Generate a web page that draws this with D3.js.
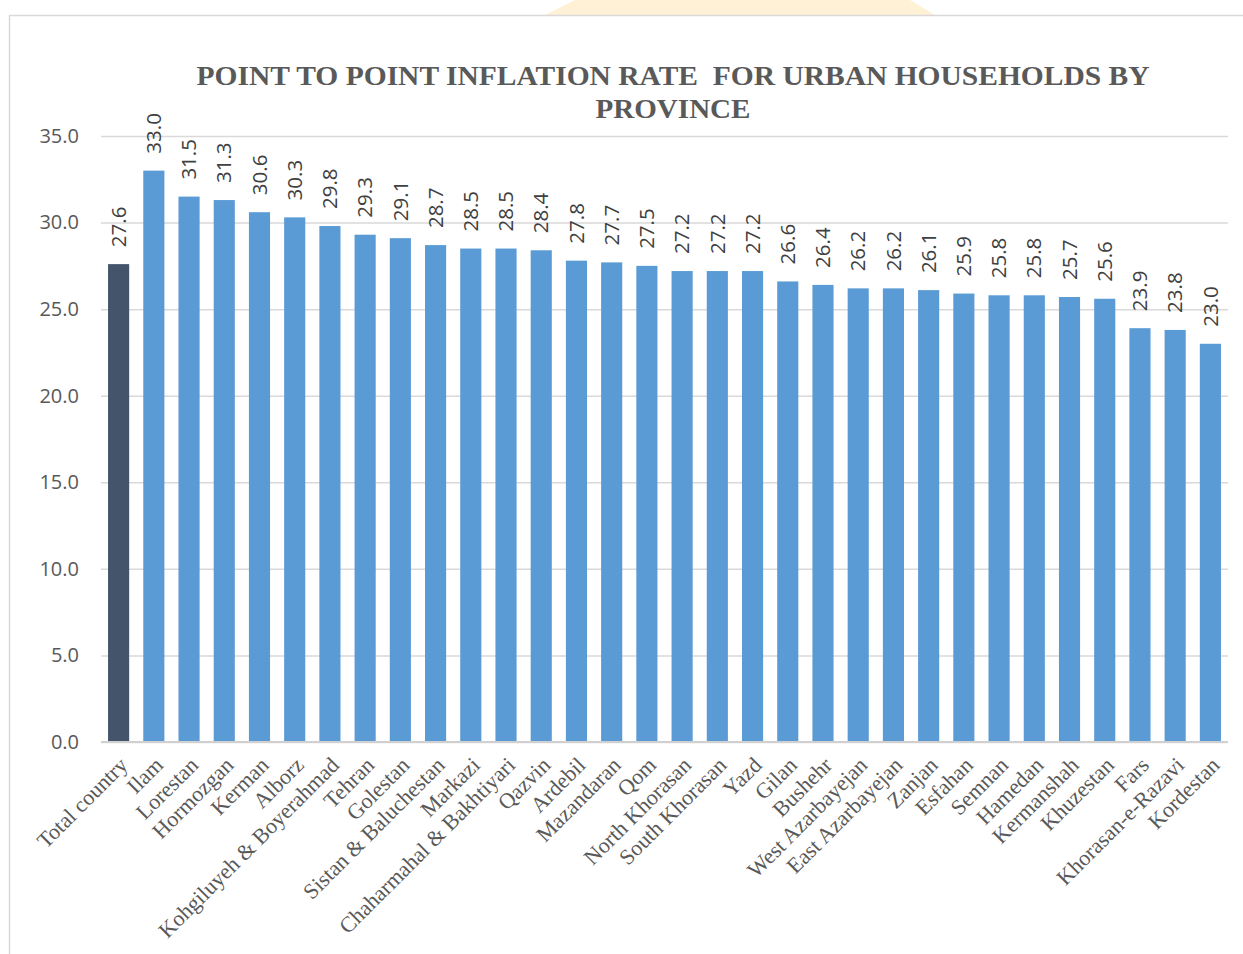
<!DOCTYPE html>
<html lang="en">
<head>
<meta charset="UTF-8">
<title>Point to point inflation rate</title>
<script src="https://d3js.org/d3.v7.min.js"></script>
<style>
body{ margin:0; background:#fff; }
svg{ display:block; }
.tick text{ font-family:"Open Sans", "Liberation Sans", sans-serif; fill:#595959; }
.xlab{ font-family:"Liberation Serif", "Times New Roman", serif; fill:#595959; font-size:22px; }
.val{ font-family:"Open Sans", "Liberation Sans", sans-serif; fill:#404040; font-size:20.5px; }
.title{ white-space:pre; }
</style>
</head>
<body>
<svg id="chart" width="1243" height="954"></svg>
<script>
const provinces = ["Total country","Ilam","Lorestan","Hormozgan","Kerman","Alborz",
  "Kohgiluyeh & Boyerahmad","Tehran","Golestan","Sistan & Baluchestan","Markazi",
  "Chaharmahal & Bakhtiyari","Qazvin","Ardebil","Mazandaran","Qom","North Khorasan",
  "South Khorasan","Yazd","Gilan","Bushehr","West Azarbayejan","East Azarbayejan",
  "Zanjan","Esfahan","Semnan","Hamedan","Kermanshah","Khuzestan","Fars",
  "Khorasan-e-Razavi","Kordestan"];
const rates = [27.6,33.0,31.5,31.3,30.6,30.3,29.8,29.3,29.1,28.7,28.5,28.5,28.4,27.8,
  27.7,27.5,27.2,27.2,27.2,26.6,26.4,26.2,26.2,26.1,25.9,25.8,25.8,25.7,25.6,23.9,23.8,23.0];
const yTicks = [0,5,10,15,20,25,30,35];
const titleLines = ["POINT TO POINT INFLATION RATE  FOR URBAN HOUSEHOLDS BY","PROVINCE"];

const svg = d3.select("#chart");
const plotLeft = 101, plotRight = 1228, plotTop = 136, plotBottom = 742;

// faint decoration behind the frame
svg.append("polygon")
  .attr("points","545,15 575,0 910,0 935,15")
  .attr("fill","#fff1d6");

// chart frame
svg.append("path")
  .attr("d","M9.5,954 V15.5 H1243")
  .attr("fill","none")
  .attr("stroke","#d9d9d9")
  .attr("stroke-width",1.5);

const x = d3.scaleBand().domain(provinces).range([plotLeft,plotRight]).paddingInner(0.4).paddingOuter(0.2);
const y = d3.scaleLinear().domain([0,35]).range([plotBottom,plotTop]);

// grid + y labels
const yAxis = svg.append("g")
  .attr("transform",`translate(${plotLeft},0)`)
  .call(d3.axisLeft(y).tickValues(yTicks).tickFormat(d3.format(".1f")).tickSize(-(plotRight-plotLeft)).tickPadding(22));
yAxis.select(".domain").remove();
yAxis.selectAll(".tick line").attr("stroke","#d9d9d9").attr("stroke-width",1.5);
yAxis.selectAll(".tick text").attr("font-size",20);

// bars
svg.append("g").selectAll("rect")
  .data(rates)
  .join("rect")
  .attr("x",(d,i)=>x(provinces[i]))
  .attr("y",d=>y(d))
  .attr("width",x.bandwidth())
  .attr("height",d=>y(0)-y(d))
  .attr("fill",(d,i)=>i===0 ? "#44546a" : "#5b9bd5");

// baseline
svg.append("line")
  .attr("x1",plotLeft).attr("x2",plotRight)
  .attr("y1",y(0)).attr("y2",y(0))
  .attr("stroke","#d0d0d0").attr("stroke-width",2);

// value labels
svg.append("g").selectAll("text")
  .data(rates)
  .join("text")
  .attr("class","val")
  .attr("transform",(d,i)=>`translate(${x(provinces[i])+x.bandwidth()/2},${y(d)-17}) rotate(-90)`)
  .attr("dy","0.35em")
  .text(d=>d.toFixed(1));

// category labels
svg.append("g").selectAll("text")
  .data(provinces)
  .join("text")
  .attr("class","xlab")
  .attr("text-anchor","end")
  .attr("transform",d=>`translate(${x(d)+x.bandwidth()/2+5},${plotBottom+19}) rotate(-45)`)
  .attr("dy","0.35em")
  .text(d=>d);

// title
svg.append("g").selectAll("text")
  .data(titleLines)
  .join("text")
  .attr("class","title")
  .attr("x",673)
  .attr("y",(d,i)=>85+i*33)
  .attr("text-anchor","middle")
  .attr("font-family","'Liberation Serif','Times New Roman',serif")
  .attr("font-weight","bold")
  .attr("font-size",27)
  .attr("fill","#595959")
  .attr("textLength",(d,i)=>i===0 ? 953 : 155)
  .attr("lengthAdjust","spacingAndGlyphs")
  .text(d=>d);
</script>
</body>
</html>
